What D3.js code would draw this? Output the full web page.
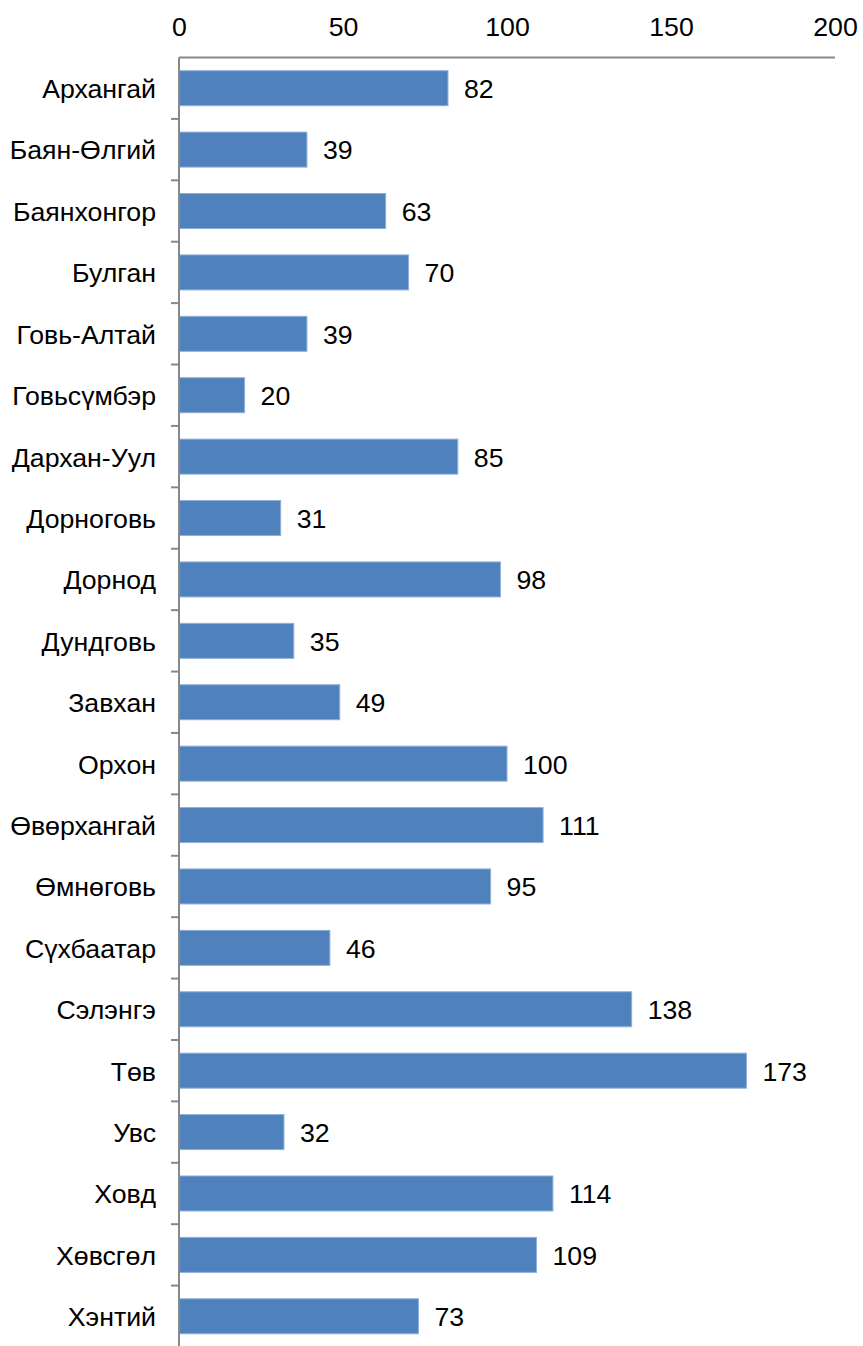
<!DOCTYPE html>
<html>
<head>
<meta charset="utf-8">
<script src="https://cdn.jsdelivr.net/npm/d3@7"></script>
<style>
  html, body { margin: 0; padding: 0; background: #fff; }
  svg { display: block; }
</style>
</head>
<body>
<script>
const categories = ["Архангай","Баян-Өлгий","Баянхонгор","Булган","Говь-Алтай","Говьсүмбэр","Дархан-Уул","Дорноговь","Дорнод","Дундговь","Завхан","Орхон","Өвөрхангай","Өмнөговь","Сүхбаатар","Сэлэнгэ","Төв","Увс","Ховд","Хөвсгөл","Хэнтий"];
const values = [82,39,63,70,39,20,85,31,98,35,49,100,111,95,46,138,173,32,114,109,73];
const xTicks = [0,50,100,150,200];

const W = 863, H = 1346;
const mLeft = 179, mRight = 835, mTop = 57.5, mBottom = 1347;
const font = "'Liberation Sans', Arial, sans-serif";
const fs = 26.7;

const svg = d3.select("body").append("svg").attr("width", W).attr("height", H);

const x = d3.scaleLinear().domain([0, 200]).range([mLeft, mRight]);
const y = d3.scaleBand().domain(categories).range([mTop, mBottom]).paddingInner(0.43).paddingOuter(0.215);
const yb = d3.scaleBand().domain(categories).range([mTop, mBottom]);

// bars
svg.selectAll("rect.bar").data(values).enter().append("rect")
  .attr("class", "bar")
  .attr("x", x(0))
  .attr("y", (d, i) => y(categories[i]))
  .attr("width", d => x(d) - x(0))
  .attr("height", y.bandwidth())
  .attr("fill", "#4F81BD")
  .attr("stroke", "#8EB0DA")
  .attr("stroke-width", 1);

// value labels
svg.selectAll("text.val").data(values).enter().append("text")
  .attr("class", "val")
  .attr("x", d => x(d) + 16)
  .attr("y", (d, i) => y(categories[i]) + y.bandwidth() / 2)
  .attr("dy", "0.37em")
  .attr("font-family", font).attr("font-size", fs)
  .attr("fill", "#000")
  .text(d => d);

// top axis
const xAxis = d3.axisTop(x).tickValues(xTicks).tickSize(0).tickPadding(0);
const gx = svg.append("g").attr("transform", `translate(0,${mTop})`).call(xAxis);
gx.select(".domain").attr("stroke", "#888").attr("stroke-width", 2).attr("d", `M${mLeft},0H${mRight}`);
gx.selectAll("text").attr("font-family", font).attr("font-size", fs).attr("fill", "#000").attr("y", -22);

// left axis
const yAxis = d3.axisLeft(yb).tickSize(0).tickPadding(23);
const gy = svg.append("g").attr("transform", `translate(${mLeft},0)`).call(yAxis);
gy.select(".domain").attr("stroke", "#888").attr("stroke-width", 2).attr("d", `M0,${mTop}V${mBottom}`);
gy.selectAll("text").attr("font-family", font).attr("font-size", fs).attr("fill", "#000").attr("dy", "0.37em");

// category boundary tick marks
const bounds = categories.map(c => yb(c)).concat([mBottom]);
svg.selectAll("line.bt").data(bounds.slice(1, -1)).enter().append("line")
  .attr("class", "bt")
  .attr("x1", mLeft - 8).attr("x2", mLeft)
  .attr("y1", d => d).attr("y2", d => d)
  .attr("stroke", "#888").attr("stroke-width", 2);
</script>
</body>
</html>
